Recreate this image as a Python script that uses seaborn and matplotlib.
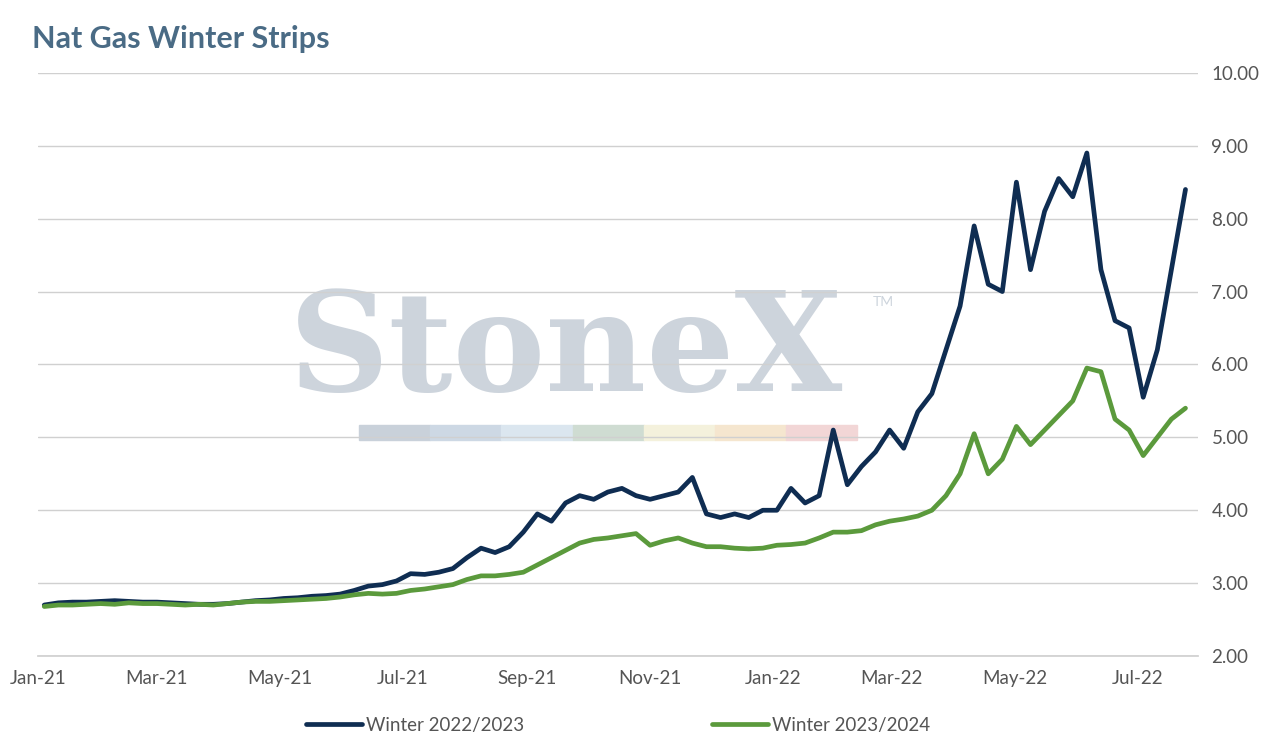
import numpy as np
import pandas as pd
import matplotlib
matplotlib.use("Agg")
import matplotlib.pyplot as plt
import matplotlib.dates as mdates
import seaborn as sns

sns.set_theme(style="white")
plt.rcParams['font.family'] = ['Lato', 'DejaVu Sans']

dates = pd.date_range("2021-01-04", periods=82, freq="W-MON")

winter_22_23 = [
    2.70, 2.73, 2.74, 2.74,
    2.75, 2.76, 2.75, 2.74,
    2.74, 2.73, 2.72, 2.71, 2.71,
    2.72, 2.74, 2.76, 2.77,
    2.79, 2.80, 2.82, 2.83, 2.85,
    2.90, 2.96, 2.98, 3.03,
    3.13, 3.12, 3.15, 3.20,
    3.35, 3.48, 3.42, 3.50, 3.70,
    3.95, 3.85, 4.10, 4.20,
    4.15, 4.25, 4.30, 4.20,
    4.15, 4.20, 4.25, 4.45, 3.95,
    3.90, 3.95, 3.90, 4.00,
    4.00, 4.30, 4.10, 4.20, 5.10,
    4.35, 4.60, 4.80, 5.10,
    4.85, 5.35, 5.60, 6.20,
    6.80, 7.90, 7.10, 7.00,
    8.50, 7.30, 8.10, 8.55, 8.30,
    8.90, 7.30, 6.60, 6.50,
    5.55, 6.20, 7.30, 8.40,
]
winter_23_24 = [
    2.68, 2.70, 2.70, 2.71,
    2.72, 2.71, 2.73, 2.72,
    2.72, 2.71, 2.70, 2.71, 2.70,
    2.72, 2.74, 2.75, 2.75,
    2.76, 2.77, 2.78, 2.79, 2.81,
    2.84, 2.86, 2.85, 2.86,
    2.90, 2.92, 2.95, 2.98,
    3.05, 3.10, 3.10, 3.12, 3.15,
    3.25, 3.35, 3.45, 3.55,
    3.60, 3.62, 3.65, 3.68,
    3.52, 3.58, 3.62, 3.55, 3.50,
    3.50, 3.48, 3.47, 3.48,
    3.52, 3.53, 3.55, 3.62, 3.70,
    3.70, 3.72, 3.80, 3.85,
    3.88, 3.92, 4.00, 4.20,
    4.50, 5.05, 4.50, 4.70,
    5.15, 4.90, 5.10, 5.30, 5.50,
    5.95, 5.90, 5.25, 5.10,
    4.75, 5.00, 5.25, 5.40,
]

df = pd.DataFrame({"date": dates, "Winter 2022/2023": winter_22_23,
                   "Winter 2023/2024": winter_23_24})
long = df.melt("date", var_name="series", value_name="price")

fig, ax = plt.subplots(figsize=(12.74, 7.43), dpi=100)
fig.subplots_adjust(left=0.03, right=0.94, top=0.902, bottom=0.117)

# watermark
ax.text(0.455, 0.52, "StoneX", transform=ax.transAxes, ha="center", va="center",
        fontsize=100, family="DejaVu Serif", fontweight="bold", color="#cdd4dc", zorder=0)
ax.text(0.72, 0.60, "TM", transform=ax.transAxes, fontsize=10, color="#cdd4dc", zorder=0)
wm_colors = ["#c9d1da", "#cdd8e4", "#dbe6ef", "#cfdcd2", "#f4f1dc", "#f5e6cf", "#f2d6d6"]
for i, c in enumerate(wm_colors):
    ax.add_patch(plt.Rectangle((0.277 + i * 0.0613, 0.371), 0.0613, 0.025,
                               transform=ax.transAxes, color=c, zorder=0))

sns.lineplot(data=long, x="date", y="price", hue="series", ax=ax,
             palette=["#0f2d52", "#5b9a3c"], linewidth=3.4, zorder=3)

ax.set_ylim(2, 10)
ax.set_yticks(np.arange(2, 10.01, 1))
ax.yaxis.set_major_formatter(matplotlib.ticker.FormatStrFormatter("%.2f"))
ax.yaxis.tick_right()
ax.grid(axis="y", color="#d0d0d0", linewidth=1)
ax.set_xlim(pd.Timestamp("2021-01-01"), pd.Timestamp("2022-07-31"))
ax.xaxis.set_major_locator(mdates.MonthLocator(bymonth=[1, 3, 5, 7, 9, 11]))
ax.xaxis.set_major_formatter(mdates.DateFormatter("%b-%y"))
ax.tick_params(axis="both", labelsize=13.5, colors="#555555", length=0, pad=10)
ax.set_xlabel("")
ax.set_ylabel("")
for s in ["top", "left", "right"]:
    ax.spines[s].set_visible(False)
ax.spines["bottom"].set_color("#d0d0d0")

ax.legend(loc="upper center", bbox_to_anchor=(0.5, -0.075), ncol=2, frameon=False,
          fontsize=13.5, columnspacing=10, handlelength=3, handletextpad=0.2)
for t in ax.get_legend().get_texts():
    t.set_color("#555555")

fig.text(0.025, 0.935, "Nat Gas Winter Strips", fontsize=22, fontweight="bold",
         color="#4a6b85")

fig.savefig("out.png", dpi=100)
